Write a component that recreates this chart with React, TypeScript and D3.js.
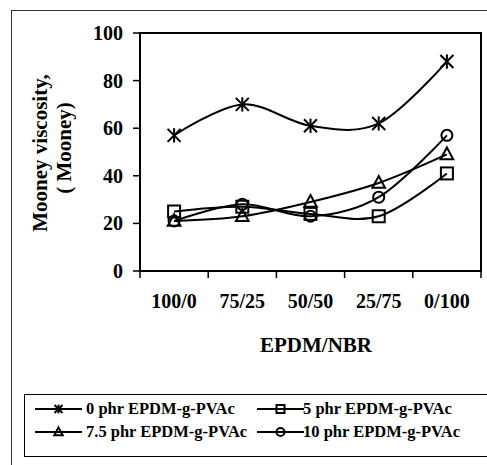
import React from "react";
import * as d3 from "d3";

const categories = ["100/0", "75/25", "50/50", "25/75", "0/100"];
const s0 = [57, 70, 61, 62, 88];
const s5 = [25, 27, 24, 23, 41];
const s75 = [21, 23, 29, 37, 49];
const s10 = [21, 28, 23, 31, 57];
const seriesNames = ["0 phr EPDM-g-PVAc", "5 phr EPDM-g-PVAc", "7.5 phr EPDM-g-PVAc", "10 phr EPDM-g-PVAc"];
const yTicks = [0, 20, 40, 60, 80, 100];

const FONT = "'Liberation Serif', 'Times New Roman', serif";

function Marker({ type, x, y, s }: { type: string; x: number; y: number; s: number }) {
  const sw = 2;
  if (type === "star") {
    return (
      <g stroke="#000" strokeWidth={sw} fill="none">
        <line x1={x - s} y1={y - s} x2={x + s} y2={y + s} />
        <line x1={x - s} y1={y + s} x2={x + s} y2={y - s} />
        <line x1={x} y1={y - s * 1.1} x2={x} y2={y + s * 1.1} />
      </g>
    );
  }
  if (type === "square") {
    return <rect x={x - s} y={y - s} width={2 * s} height={2 * s} stroke="#000" strokeWidth={sw} fill="none" />;
  }
  if (type === "triangle") {
    return (
      <path
        d={`M${x},${y - s * 1.15} L${x + s * 1.05},${y + s * 0.8} L${x - s * 1.05},${y + s * 0.8} Z`}
        stroke="#000"
        strokeWidth={sw}
        fill="none"
      />
    );
  }
  return <circle cx={x} cy={y} r={s} stroke="#000" strokeWidth={sw} fill="none" />;
}

export default function App() {
  const W = 487;
  const H = 465;
  const left = 140, right = 481, top = 33, bottom = 271;

  const x = d3.scaleBand<string>().domain(categories).range([left, right]);
  const y = d3.scaleLinear().domain([0, 100]).range([bottom, top]);
  const cx = (c: string) => (x(c) as number) + x.bandwidth() / 2;

  const series = [
    { data: s0, type: "star", size: 6.5 },
    { data: s5, type: "square", size: 6 },
    { data: s75, type: "triangle", size: 6 },
    { data: s10, type: "circle", size: 5.5 },
  ];

  const line = d3
    .line<number>()
    .x((_, i) => cx(categories[i]))
    .y((d) => y(d))
    .curve(d3.curveCardinal.tension(0));

  const legendItems = [
    { name: seriesNames[0], type: "star", lx: 35, tx: 86, ty: 414 },
    { name: seriesNames[1], type: "square", lx: 257, tx: 303, ty: 414 },
    { name: seriesNames[2], type: "triangle", lx: 35, tx: 86, ty: 437 },
    { name: seriesNames[3], type: "circle", lx: 257, tx: 303, ty: 437 },
  ];

  const tickEdges = [...categories.map((c) => x(c) as number), right];

  return (
    <svg width={W} height={H} style={{ position: "absolute", left: 0, top: 0, background: "#fff" }} fontFamily={FONT}>
      <rect x={0} y={0} width={W} height={H} fill="#fff" />
      <rect x={11.5} y={10.5} width={W + 10} height={H + 10} fill="none" stroke="#333" strokeWidth={1} />

      {/* plot frame */}
      <rect x={left} y={top} width={right - left} height={bottom - top} fill="none" stroke="#000" strokeWidth={2} />

      {/* y ticks */}
      {yTicks.map((t) => (
        <g key={t}>
          <line x1={left - 7} x2={left} y1={y(t)} y2={y(t)} stroke="#000" strokeWidth={1.5} />
          <text x={123} y={y(t)} dy="0.35em" textAnchor="end" fontSize={20} fontWeight="bold">
            {t}
          </text>
        </g>
      ))}

      {/* x ticks */}
      {tickEdges.map((e, i) => (
        <line key={i} x1={e} x2={e} y1={bottom} y2={bottom + 7} stroke="#000" strokeWidth={1.5} />
      ))}
      {categories.map((c) => (
        <text key={c} x={cx(c)} y={308} textAnchor="middle" fontSize={20} fontWeight="bold">
          {c}
        </text>
      ))}

      {/* axis titles */}
      <text x={316} y={352} textAnchor="middle" fontSize={21} fontWeight="bold">
        EPDM/NBR
      </text>
      <text transform="translate(47,153) rotate(-90)" textAnchor="middle" fontSize={21} fontWeight="bold">
        Mooney viscosity,
      </text>
      <text transform="translate(71,148) rotate(-90)" textAnchor="middle" fontSize={21} fontWeight="bold">
        ( Mooney)
      </text>

      {/* series */}
      {series.map((s, si) => (
        <g key={si}>
          <path d={line(s.data) as string} fill="none" stroke="#000" strokeWidth={2} />
          {s.data.map((v, i) => (
            <Marker key={i} type={s.type} x={cx(categories[i])} y={y(v)} s={s.size} />
          ))}
        </g>
      ))}

      {/* legend */}
      <rect x={24.5} y={394.5} width={W} height={62} fill="none" stroke="#000" strokeWidth={1} />
      {legendItems.map((it, i) => (
        <g key={i}>
          <line x1={it.lx} x2={it.lx + 47} y1={it.ty - 5} y2={it.ty - 5} stroke="#000" strokeWidth={2} />
          <Marker type={it.type} x={it.lx + 23.5} y={it.ty - 5} s={4} />
          <text x={it.tx} y={it.ty} fontSize={16.5} fontWeight="bold">
            {it.name}
          </text>
        </g>
      ))}
    </svg>
  );
}
